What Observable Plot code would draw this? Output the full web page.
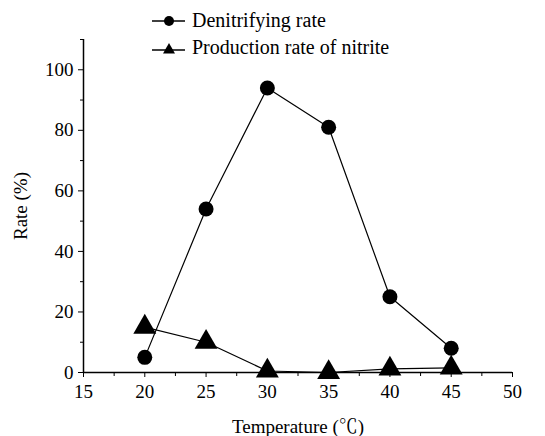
<!DOCTYPE html>
<html>
<head>
<meta charset="utf-8">
<script src="https://cdn.jsdelivr.net/npm/d3@7"></script>
<script src="https://cdn.jsdelivr.net/npm/@observablehq/plot@0.6"></script>
<style>
  body { margin: 0; background: #fff; }
  #wrap { position: relative; width: 545px; height: 436px; font-family: "Liberation Serif", "Noto Serif CJK SC", serif; }
  #chart svg, #chart svg text { font-family: "Liberation Serif", "Noto Serif CJK SC", serif !important; }
  #legend { position: absolute; left: 152px; top: 7px; font-size: 20px; line-height: 27px; color: #000; }
  #legend div { display: flex; align-items: center; height: 27px; }
  #legend svg { margin-right: 7px; }
</style>
</head>
<body>
<div id="wrap">
  <div id="chart"></div>
  <div id="legend"></div>
</div>
<script>
const temps = [20, 25, 30, 35, 40, 45];
const denitrifying = [5, 54, 94, 81, 25, 8];
const nitrite = [15, 10, 0.5, 0, 1.2, 1.5];
const seriesNames = ["Denitrifying rate", "Production rate of nitrite"];
const xTicks = [15, 20, 25, 30, 35, 40, 45, 50];
const xMinor = [17.5, 22.5, 27.5, 32.5, 37.5, 42.5, 47.5];
const yTicks = [0, 20, 40, 60, 80, 100];
const yMinor = [10, 30, 50, 70, 90, 110];

const denData = temps.map((t, i) => ({t, v: denitrifying[i]}));
const nitData = temps.map((t, i) => ({t, v: nitrite[i]}));

const chart = Plot.plot({
  width: 545,
  height: 436,
  marginLeft: 83,
  marginRight: 33,
  marginTop: 39,
  marginBottom: 64,
  style: {fontSize: "19px", color: "#000", background: "#fff", overflow: "visible"},
  x: {domain: [15, 50]},
  y: {domain: [0, 110]},
  marks: [
    Plot.axisX({ticks: xTicks, tickSize: 5, tickPadding: 7, tickFormat: d => d, label: "Temperature (℃)", labelAnchor: "center", labelArrow: "none", labelOffset: 60, fontSize: 19}),
    Plot.axisX({ticks: xMinor, tickSize: 4, text: null, label: null}),
    Plot.axisY({ticks: yTicks, tickSize: 5, tickPadding: 5, label: "Rate (%)", labelAnchor: "center", labelArrow: "none", labelOffset: 70, fontSize: 19}),
    Plot.axisY({ticks: yMinor, tickSize: 3, text: null, label: null}),
    Plot.ruleX([15], {stroke: "#000", strokeWidth: 1.5}),
    Plot.ruleY([0], {stroke: "#000", strokeWidth: 1.5}),
    Plot.line(denData, {x: "t", y: "v", stroke: "#000", strokeWidth: 1.2}),
    Plot.line(nitData, {x: "t", y: "v", stroke: "#000", strokeWidth: 1.2}),
    Plot.dot(denData, {x: "t", y: "v", r: 7.5, fill: "#000", stroke: "none"}),
    Plot.dot(nitData, {x: "t", y: "v", r: 8.5, symbol: "triangle", fill: "#000", stroke: "none"})
  ]
});
document.getElementById("chart").appendChild(chart);

const legend = document.getElementById("legend");
const symbols = [
  '<svg width="33" height="14"><line x1="0" y1="7" x2="33" y2="7" stroke="#000" stroke-width="1.5"/><circle cx="17" cy="7" r="5" fill="#000"/></svg>',
  '<svg width="33" height="14"><line x1="0" y1="9" x2="33" y2="9" stroke="#000" stroke-width="1.5"/><path d="M17,2 L23,12.5 L11,12.5 Z" fill="#000"/></svg>'
];
seriesNames.forEach((name, i) => {
  const row = document.createElement("div");
  row.innerHTML = symbols[i] + "<span>" + name + "</span>";
  legend.appendChild(row);
});
</script>
</body>
</html>
